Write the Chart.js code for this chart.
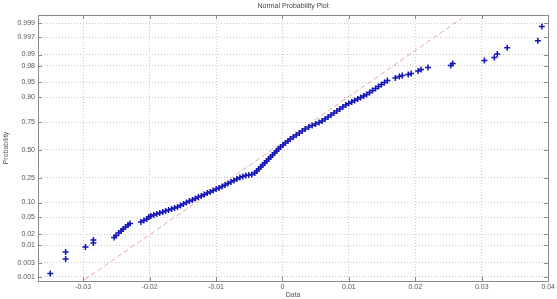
<!DOCTYPE html>
<html>
<head>
<meta charset="utf-8">
<script src="https://cdn.jsdelivr.net/npm/chart.js@4.4.1/dist/chart.umd.min.js"></script>
<style>
html,body{margin:0;padding:0;background:#fff;}
#c{display:block;}
</style>
</head>
<body>
<canvas id="c" width="557" height="299"></canvas>
<script>
// ---- data ----
const titleText = "Normal Probability Plot";
const xAxisTitle = "Data";
const yAxisTitle = "Probability";

const xTicks = [-0.03, -0.02, -0.01, 0, 0.01, 0.02, 0.03, 0.04];
const xTickLabels = ["-0.03", "-0.02", "-0.01", "0", "0.01", "0.02", "0.03", "0.04"];
const xLimits = [-0.0368, 0.04];

const yTickP = [0.001, 0.003, 0.01, 0.02, 0.05, 0.10, 0.25, 0.50, 0.75, 0.90, 0.95, 0.98, 0.99, 0.997, 0.999];
const yTickLabels = ["0.001", "0.003", "0.01", "0.02", "0.05", "0.10", "0.25", "0.50", "0.75", "0.90", "0.95", "0.98", "0.99", "0.997", "0.999"];
const yLimitsP = [0.0007, 0.9995];

const dataX = [
 -0.03495,-0.03264,-0.03264,-0.02966,-0.02846,-0.02846,-0.02534,-0.02504,-0.02466,-0.02429,
 -0.02399,-0.02362,-0.02325,-0.02295,-0.02131,-0.02086,-0.02042,-0.02012,-0.01982,-0.01937,
 -0.01893,-0.01848,-0.01803,-0.01759,-0.01714,-0.01669,-0.01624,-0.01580,-0.01535,-0.01490,
 -0.01446,-0.01401,-0.01356,-0.01311,-0.01267,-0.01222,-0.01177,-0.01133,-0.01088,-0.01043,
 -0.00998,-0.00954,-0.00909,-0.00864,-0.00820,-0.00775,-0.00730,-0.00686,-0.00641,-0.00596,
 -0.00551,-0.00507,-0.00462,-0.00417,-0.00387,-0.00358,-0.00328,-0.00298,-0.00268,-0.00238,
 -0.00209,-0.00179,-0.00149,-0.00119,-0.00089,-0.00060,-0.00030,0.00007,0.00045,0.00082,
 0.00119,0.00164,0.00209,0.00253,0.00298,0.00343,0.00395,0.00447,0.00499,0.00551,
 0.00596,0.00641,0.00686,0.00730,0.00775,0.00820,0.00864,0.00909,0.00954,0.00998,
 0.01043,0.01088,0.01133,0.01177,0.01222,0.01267,0.01311,0.01356,0.01401,0.01446,
 0.01490,0.01535,0.01580,0.01699,0.01759,0.01803,0.01893,0.01937,0.02042,0.02086,
 0.02191,0.02534,0.02563,0.03040,0.03189,0.03234,0.03383,0.03845,0.03905
];
const dataP = [
 0.0013,0.0039,0.0064,0.0090,0.0117,0.0141,0.0164,0.0185,0.0215,0.0241,
 0.0270,0.0302,0.0337,0.0365,0.0395,0.0427,0.0462,0.0511,0.0537,0.0565,
 0.0593,0.0622,0.0653,0.0684,0.0717,0.0751,0.0786,0.0822,0.0879,0.0939,
 0.1002,0.1068,0.1113,0.1184,0.1259,0.1310,0.1389,0.1471,0.1529,0.1616,
 0.1708,0.1771,0.1867,0.1966,0.2070,0.2177,0.2285,0.2397,0.2512,0.2591,
 0.2670,0.2710,0.2750,0.2874,0.3043,0.3216,0.3392,0.3572,0.3756,0.3942,
 0.4130,0.4322,0.4515,0.4709,0.4903,0.5097,0.5291,0.5485,0.5678,0.5870,
 0.6058,0.6244,0.6428,0.6608,0.6784,0.6957,0.7126,0.7250,0.7370,0.7488,
 0.7603,0.7752,0.7896,0.8034,0.8166,0.8292,0.8413,0.8529,0.8638,0.8716,
 0.8792,0.8863,0.8932,0.8998,0.9061,0.9121,0.9196,0.9266,0.9332,0.9393,
 0.9449,0.9501,0.9550,0.9605,0.9635,0.9654,0.9672,0.9690,0.9730,0.9752,
 0.9779,0.9803,0.9826,0.9855,0.9880,0.9904,0.9936,0.9961,0.9987
];

// reference line end points (data, probability)
const refX = [-0.0298, 0.0270];
const refP = [0.00078, 0.99934];

// ---- probability (normal) scale transform ----
function probit(p) {
  const a = [-3.969683028665376e+01, 2.209460984245205e+02, -2.759285104469687e+02, 1.383577518672690e+02, -3.066479806614716e+01, 2.506628277459239e+00];
  const b = [-5.447609879822406e+01, 1.615858368580409e+02, -1.556989798598866e+02, 6.680131188771972e+01, -1.328068155288572e+01];
  const c = [-7.784894002430293e-03, -3.223964580411365e-01, -2.400758277161838e+00, -2.549732539343734e+00, 4.374664141464968e+00, 2.938163982698783e+00];
  const d = [7.784695709041462e-03, 3.224671290700398e-01, 2.445134137142996e+00, 3.754408661907416e+00];
  const plow = 0.02425, phigh = 1 - plow;
  let q, r;
  if (p < plow) {
    q = Math.sqrt(-2 * Math.log(p));
    return (((((c[0]*q+c[1])*q+c[2])*q+c[3])*q+c[4])*q+c[5]) / ((((d[0]*q+d[1])*q+d[2])*q+d[3])*q+1);
  } else if (p <= phigh) {
    q = p - 0.5; r = q*q;
    return (((((a[0]*r+a[1])*r+a[2])*r+a[3])*r+a[4])*r+a[5])*q / (((((b[0]*r+b[1])*r+b[2])*r+b[3])*r+b[4])*r+1);
  } else {
    q = Math.sqrt(-2 * Math.log(1 - p));
    return -(((((c[0]*q+c[1])*q+c[2])*q+c[3])*q+c[4])*q+c[5]) / ((((d[0]*q+d[1])*q+d[2])*q+d[3])*q+1);
  }
}

const FONT = "'Liberation Sans', Arial, sans-serif";
const frameColor = '#8a8a8a';

const framePlugin = {
  id: 'frame',
  beforeDraw(chart) {
    const ctx = chart.ctx;
    ctx.save();
    ctx.fillStyle = '#fff';
    ctx.fillRect(0, 0, chart.width, chart.height);
    ctx.restore();
  },
  afterDatasetsDraw(chart) {
    const {ctx, chartArea: a, scales} = chart;
    ctx.save();
    ctx.strokeStyle = frameColor;
    ctx.lineWidth = 1;
    ctx.strokeRect(Math.round(a.left) + 0.5, Math.round(a.top) + 0.5,
                   Math.round(a.right - a.left), Math.round(a.bottom - a.top));
    const tl = 4;
    ctx.beginPath();
    scales.x.ticks.forEach(t => {
      const px = Math.round(scales.x.getPixelForValue(t.value)) + 0.5;
      ctx.moveTo(px, a.bottom); ctx.lineTo(px, a.bottom - tl);
      ctx.moveTo(px, a.top); ctx.lineTo(px, a.top + tl);
    });
    scales.y.ticks.forEach(t => {
      const py = Math.round(scales.y.getPixelForValue(t.value)) + 0.5;
      ctx.moveTo(a.left, py); ctx.lineTo(a.left + tl, py);
      ctx.moveTo(a.right, py); ctx.lineTo(a.right - tl, py);
    });
    ctx.stroke();
    ctx.restore();
  }
};

const points = dataX.map((x, i) => ({x: x, y: probit(dataP[i])}));
const refLine = refX.map((x, i) => ({x: x, y: probit(refP[i])}));

new Chart(document.getElementById('c'), {
  type: 'scatter',
  data: {
    datasets: [
      {
        type: 'line',
        data: refLine,
        borderColor: 'rgba(228,150,135,0.85)',
        borderWidth: 1,
        borderDash: [5, 3],
        pointRadius: 0,
        fill: false,
        order: 2
      },
      {
        data: points,
        pointStyle: 'cross',
        pointRadius: 3,
        borderColor: '#1212b8',
        backgroundColor: '#1212b8',
        pointBorderWidth: 1.5,
        order: 1
      }
    ]
  },
  options: {
    responsive: false,
    animation: false,
    events: [],
    layout: {padding: {left: 0, right: 4, top: 0, bottom: 0}},
    plugins: {
      legend: {display: false},
      tooltip: {enabled: false},
      title: {
        display: true,
        text: titleText,
        fullSize: false,
        color: '#444',
        font: {family: FONT, size: 7, weight: 'normal', lineHeight: 1.2},
        padding: {top: 2, bottom: 4.6}
      }
    },
    scales: {
      x: {
        type: 'linear',
        min: xLimits[0],
        max: xLimits[1],
        afterBuildTicks: s => { s.ticks = xTicks.map(v => ({value: v})); },
        afterFit: s => { s.height = 18; },
        ticks: {
          autoSkip: false,
          maxRotation: 0,
          padding: 2,
          color: '#555',
          font: {family: FONT, size: 7},
          callback: (v, i) => xTickLabels[i]
        },
        grid: {
          color: '#c8c8c8',
          lineWidth: 1,
          drawTicks: false
        },
        border: {display: false, dash: [1, 2]},
        title: {
          display: true,
          text: xAxisTitle,
          color: '#555',
          font: {family: FONT, size: 7},
          padding: {top: 0, bottom: 0}
        }
      },
      y: {
        type: 'linear',
        min: probit(yLimitsP[0]),
        max: probit(yLimitsP[1]),
        afterBuildTicks: s => { s.ticks = yTickP.map(p => ({value: probit(p)})); },
        afterFit: s => { s.width = 38; },
        ticks: {
          autoSkip: false,
          padding: 3,
          color: '#555',
          font: {family: FONT, size: 7},
          callback: (v, i) => yTickLabels[i]
        },
        grid: {
          color: '#c8c8c8',
          lineWidth: 1,
          drawTicks: false
        },
        border: {display: false, dash: [1, 2]},
        title: {
          display: true,
          text: yAxisTitle,
          color: '#555',
          font: {family: FONT, size: 7},
          padding: {top: 2, bottom: 0}
        }
      }
    }
  },
  plugins: [framePlugin]
});
</script>
</body>
</html>
